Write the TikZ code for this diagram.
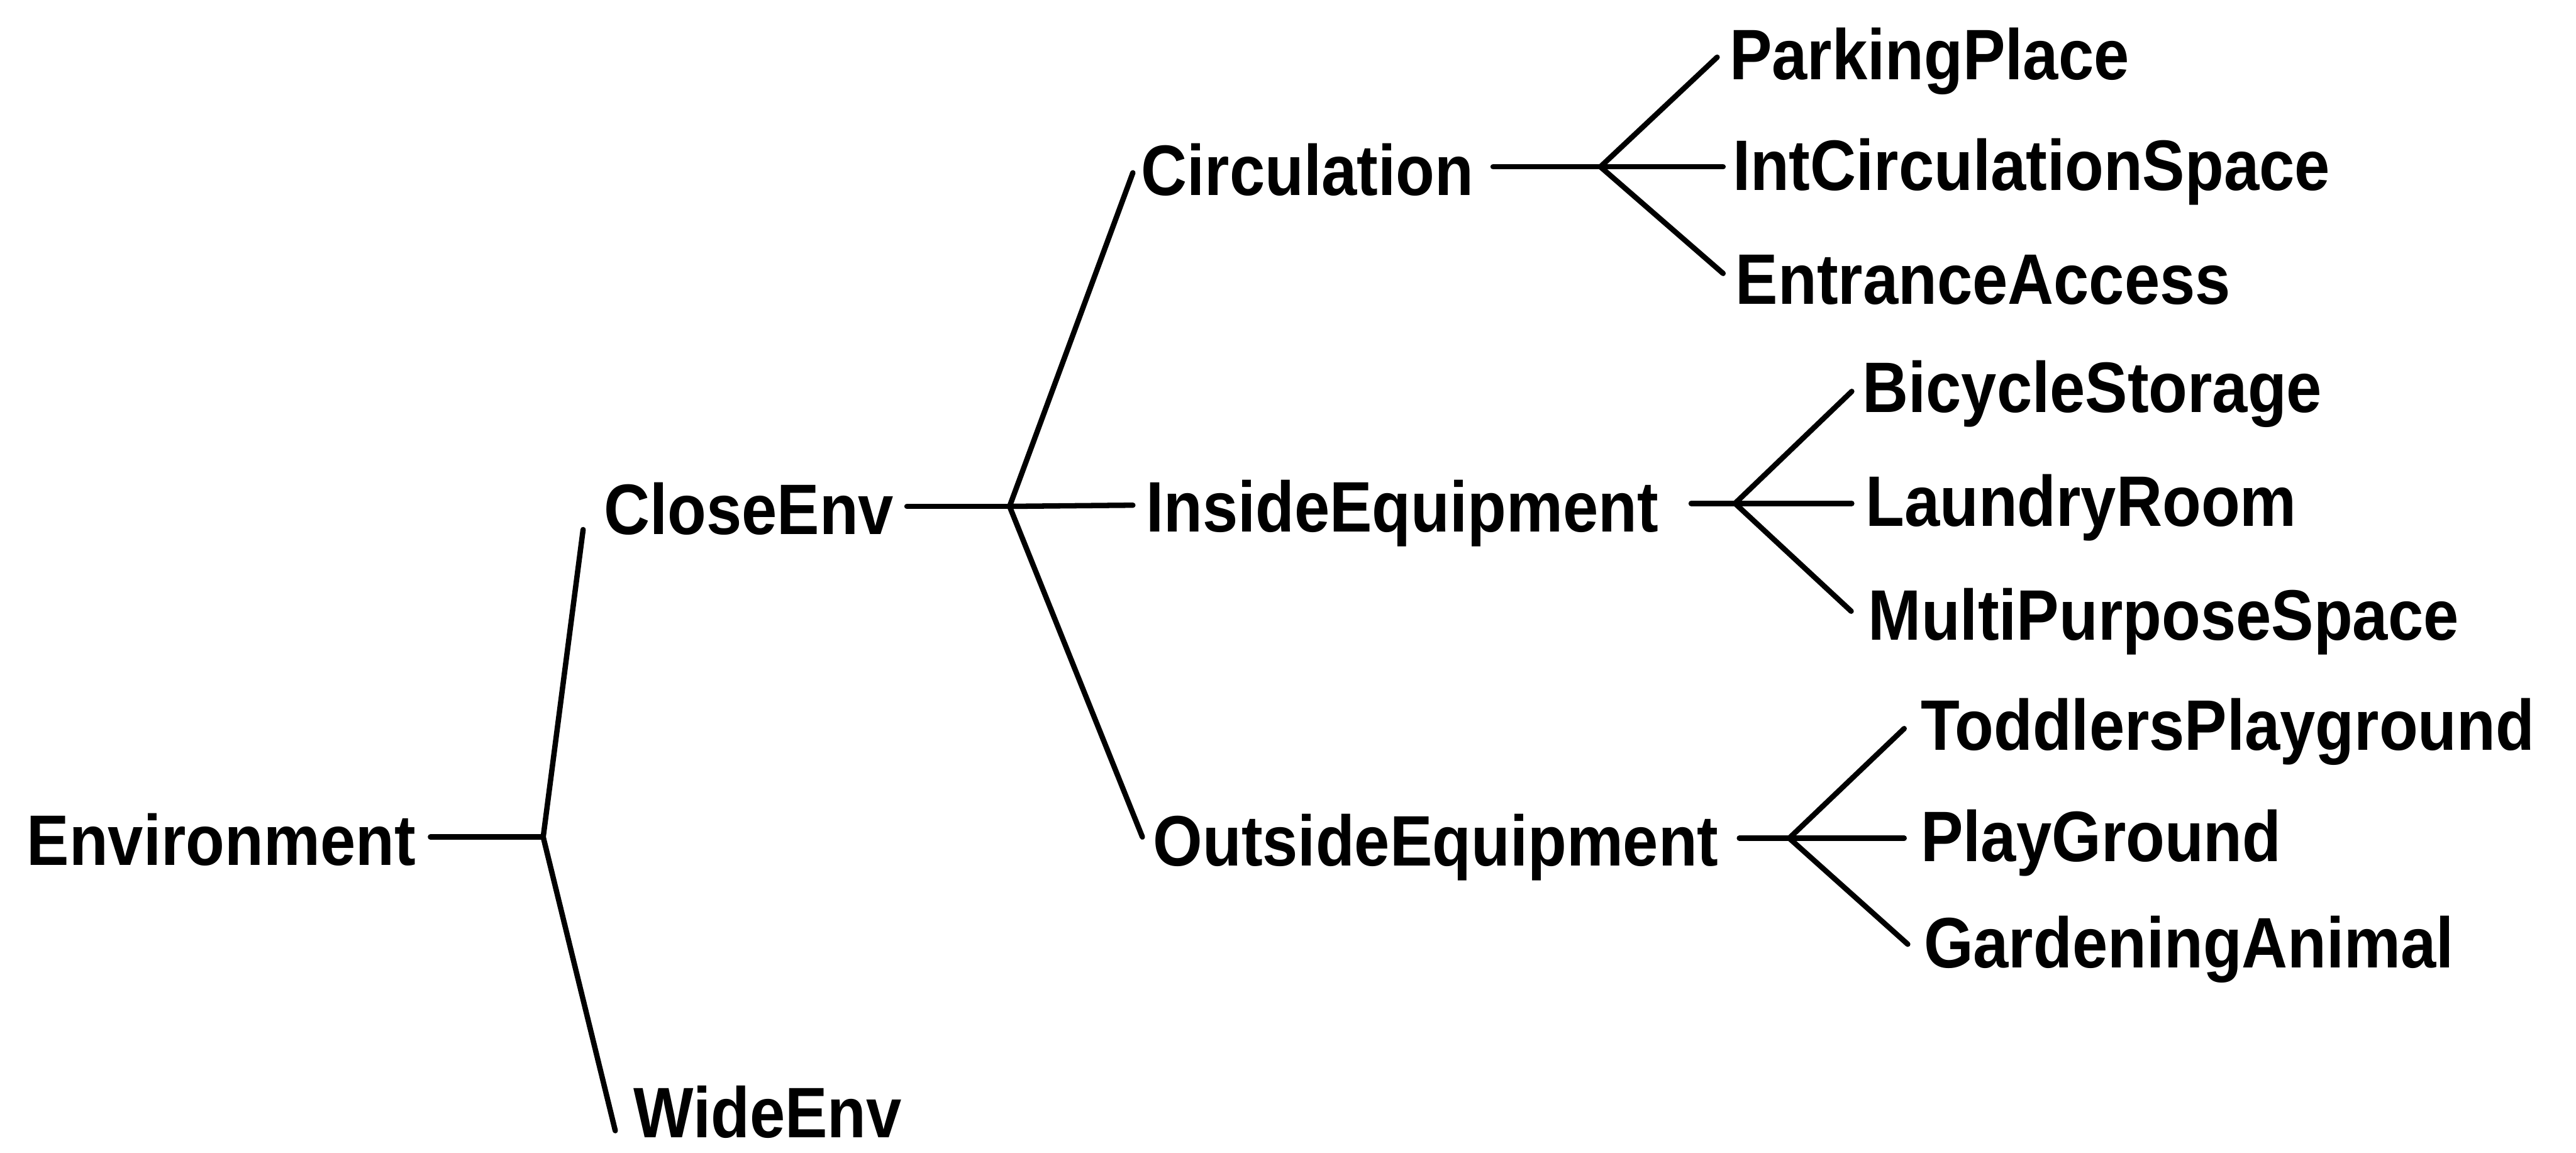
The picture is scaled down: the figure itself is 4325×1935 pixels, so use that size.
\documentclass[tikz,border=0pt]{standalone}
\usepackage{fontspec}
\usetikzlibrary{calc}
\newfontfamily\lbfont[FakeStretch=0.89]{Liberation Sans Bold}
\begin{document}
\begin{tikzpicture}[x=0.1pt,y=-0.1pt,
  lbl/.style={anchor=base west, inner sep=0pt, font=\lbfont\fontsize{12pt}{14pt}\selectfont},
  edge/.style={line width=0.9pt, line cap=round, line join=round}]
\useasboundingbox (0,0) rectangle (4325,1935);

% labels
\node[lbl] (env)  at (43,1452)   {Environment};
\node[lbl] (ce)   at (1012,897)  {CloseEnv};
\node[lbl] (we)   at (1062,1910) {WideEnv};
\node[lbl] (circ) at (1914,328)  {Circulation};
\node[lbl] (ie)   at (1922,893)  {InsideEquipment};
\node[lbl] (oe)   at (1934,1453) {OutsideEquipment};
\node[lbl] (pp)   at (2902,134)  {ParkingPlace};
\node[lbl] (ics)  at (2907,319)  {IntCirculationSpace};
\node[lbl] (ea)   at (2912,510)  {EntranceAccess};
\node[lbl] (bs)   at (3125,692)  {BicycleStorage};
\node[lbl] (lr)   at (3130,883)  {LaundryRoom};
\node[lbl] (mps)  at (3135,1074) {MultiPurposeSpace};
\node[lbl] (tp)   at (3223,1259) {ToddlersPlayground};
\node[lbl] (pg)   at (3223,1446) {PlayGround};
\node[lbl] (ga)   at (3228,1625) {GardeningAnimal};

% branch points
\coordinate (b0) at (912,1405);
\coordinate (b1) at (1695,850);
\coordinate (b2) at (2687,280);
\coordinate (b3) at (2913,845);
\coordinate (b4) at (3004,1407);

% Environment
\draw[edge] ($(env.base east)+(23,-47)$) -- (b0);
\draw[edge] (b0) -- ($(ce.base west)+(-33,-8)$);
\draw[edge] (b0) -- ($(we.base west)+(-29,-12)$);

% CloseEnv
\draw[edge] ($(ce.base east)+(20,-47)$) -- (b1);
\draw[edge] (b1) -- ($(circ.base west)+(-12,-38)$);
\draw[edge] (b1) -- ($(ie.base west)+(-20,-45)$);
\draw[edge] (b1) -- ($(oe.base west)+(-16,-48)$);

% Circulation
\draw[edge] ($(circ.base east)+(31,-48)$) -- (b2);
\draw[edge] (b2) -- ($(pp.base west)+(-19,-38)$);
\draw[edge] (b2) -- ($(ics.base west)+(-14,-39)$);
\draw[edge] (b2) -- ($(ea.base west)+(-19,-51)$);

% InsideEquipment
\draw[edge] ($(ie.base east)+(53,-48)$) -- (b3);
\draw[edge] (b3) -- ($(bs.base west)+(-16,-35)$);
\draw[edge] (b3) -- ($(lr.base west)+(-21,-38)$);
\draw[edge] (b3) -- ($(mps.base west)+(-27,-48)$);

% OutsideEquipment
\draw[edge] ($(oe.base east)+(33,-46)$) -- (b4);
\draw[edge] (b4) -- ($(tp.base west)+(-26,-36)$);
\draw[edge] (b4) -- ($(pg.base west)+(-26,-39)$);
\draw[edge] (b4) -- ($(ga.base west)+(-25,-40)$);
\end{tikzpicture}
\end{document}
